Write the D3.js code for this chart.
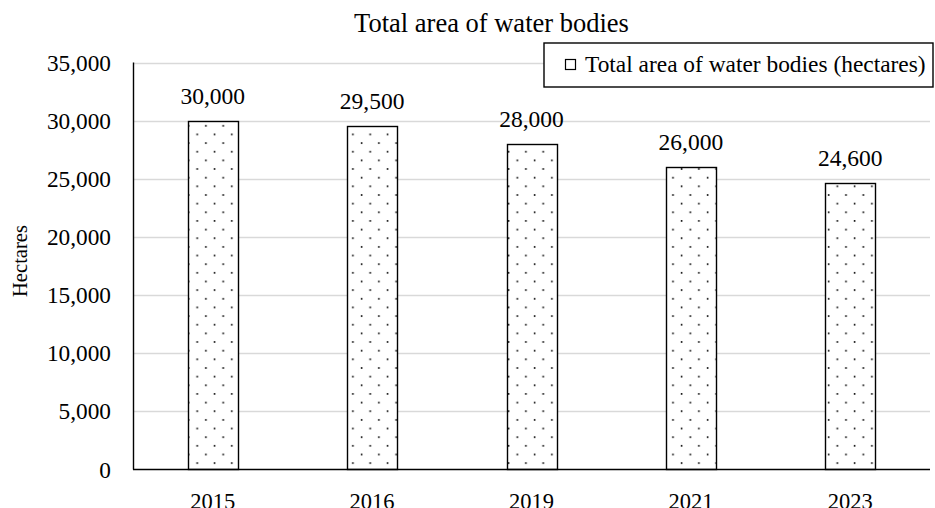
<!DOCTYPE html>
<html><head><meta charset="utf-8">
<script src="https://cdn.jsdelivr.net/npm/d3@7"></script>
<style>body{margin:0;background:#fff}svg{display:block;font-family:"Liberation Serif","Times New Roman",serif}</style>
</head><body><svg id="c" width="935" height="508"></svg>
<script>
const categories = ["2015","2016","2019","2021","2023"];
const values = [30000,29500,28000,26000,24600];
const yTicks = [0,5000,10000,15000,20000,25000,30000,35000];
const title = "Total area of water bodies";
const seriesName = "Total area of water bodies (hectares)";
const yTitle = "Hectares";

const svg = d3.select("#c");
const m = {l:133, r:5, t:62.5, b:39};
const W = 935, H = 508;
const x = d3.scaleBand().domain(categories).range([m.l, W - m.r]).paddingInner(0.687).paddingOuter(0.3435);
const y = d3.scaleLinear().domain([0,35000]).range([H - m.b, m.t]);
const fmt = d3.format(",");

const defs = svg.append("defs");
const pat = defs.append("pattern").attr("id","dots").attr("patternUnits","userSpaceOnUse")
  .attr("width",17.3).attr("height",17.3).attr("x",187).attr("y",121);
pat.append("rect").attr("width",17.3).attr("height",17.3).attr("fill","#fff");
pat.append("rect").attr("x",0.8).attr("y",4).attr("width",1.6).attr("height",1.6).attr("fill","#000");
pat.append("rect").attr("x",9.4).attr("y",12.6).attr("width",1.6).attr("height",1.6).attr("fill","#000");

// gridlines
svg.append("g").selectAll("line").data(yTicks.filter(d=>d>0)).join("line")
  .attr("x1",m.l).attr("x2",W-m.r).attr("y1",d=>Math.round(y(d))+0.5).attr("y2",d=>Math.round(y(d))+0.5)
  .attr("stroke","#d9d9d9").attr("stroke-width",1.3);

// y tick labels
svg.append("g").selectAll("text").data(yTicks).join("text")
  .attr("x",111).attr("y",d=>y(d)+8.5).attr("text-anchor","end")
  .attr("font-size",23.3).attr("fill","#000").text(d=>fmt(d));

// bars
svg.append("g").selectAll("rect").data(values).join("rect")
  .attr("x",(d,i)=>Math.round(x(categories[i]))+0.5)
  .attr("y",d=>Math.round(y(d))+0.5)
  .attr("width",Math.round(x.bandwidth()))
  .attr("height",d=>Math.round(y(0))-Math.round(y(d)))
  .attr("fill","url(#dots)").attr("stroke","#000").attr("stroke-width",1.4);

// value labels
svg.append("g").selectAll("text").data(values).join("text")
  .attr("x",(d,i)=>x(categories[i])+x.bandwidth()/2).attr("y",d=>y(d)-17)
  .attr("text-anchor","middle").attr("font-size",23.5).attr("fill","#000").text(d=>fmt(d));

// axes lines
svg.append("line").attr("x1",m.l+0.5).attr("x2",m.l+0.5).attr("y1",m.t).attr("y2",Math.round(y(0))+0.5)
  .attr("stroke","#000").attr("stroke-width",1.4);
svg.append("line").attr("x1",m.l).attr("x2",W-m.r).attr("y1",Math.round(y(0))+0.5).attr("y2",Math.round(y(0))+0.5)
  .attr("stroke","#000").attr("stroke-width",1.4);

// x labels
svg.append("g").selectAll("text").data(categories).join("text")
  .attr("x",d=>x(d)+x.bandwidth()/2).attr("y",508.5).attr("text-anchor","middle")
  .attr("font-size",22.5).attr("fill","#000").text(d=>d);

// title
svg.append("text").attr("x",491.5).attr("y",32).attr("text-anchor","middle")
  .attr("font-size",26.5).attr("fill","#000").text(title);

// y title
svg.append("text").attr("transform","translate(27,261) rotate(-90)").attr("text-anchor","middle")
  .attr("font-size",20.6).attr("fill","#000").text(yTitle);

// legend
const lg = svg.append("g");
lg.append("rect").attr("x",544).attr("y",43).attr("width",389).attr("height",44)
  .attr("fill","#fff").attr("stroke","#000").attr("stroke-width",1.4);
lg.append("rect").attr("x",565.5).attr("y",59.5).attr("width",10).attr("height",10)
  .attr("fill","#fff").attr("stroke","#000").attr("stroke-width",1.2);
lg.append("text").attr("x",585).attr("y",72).attr("font-size",23.4).attr("fill","#000").text(seriesName);
</script></body></html>
